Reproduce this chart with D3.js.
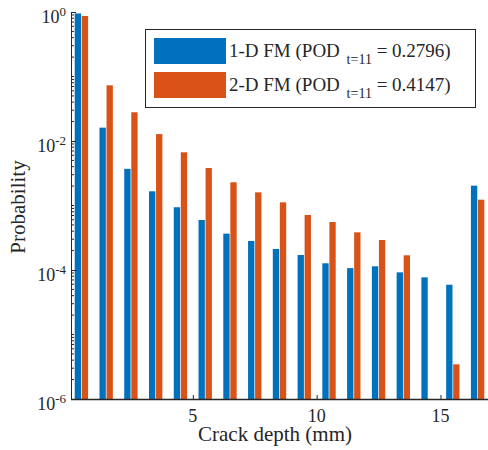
<!DOCTYPE html>
<html>
<head>
<meta charset="utf-8">
<script src="https://cdn.jsdelivr.net/npm/d3@7"></script>
<style>
  body { margin: 0; background: #fff; }
  text { font-family: "Liberation Serif", "Times New Roman", serif; fill: #262626; }
</style>
</head>
<body>
<script>
// crack depth bins (bar centers, mm)
const depth = [0.5, 1.5, 2.5, 3.5, 4.5, 5.5, 6.5, 7.5, 8.5, 9.5, 10.5, 11.5, 12.5, 13.5, 14.5, 15.5, 16.5]
// probability per bin
const fm1d = [0.95, 0.0161, 0.0037, 0.00166, 0.00094, 0.000596, 0.000366, 0.000282, 0.000212, 0.000171,
  0.000127, 0.000107, 0.000114, 9.2e-5, 7.7e-5, 5.9e-5, 0.00203]
const fm2d = [0.867, 0.073, 0.0279, 0.0128, 0.00668, 0.00381, 0.00229, 0.0016, 0.00112, 0.000713,
  0.000555, 0.000384, 0.000292, 0.000169, 0, 3.45e-6, 0.00123]
const seriesNames = ['1-D FM', '2-D FM']
const podValues = ['0.2796', '0.4147']
const xTicks = [5, 10, 15]
const yTicks = [1e0, 1e-2, 1e-4, 1e-6]

const colors = ['#0072BD', '#D95319']
const w = 488
const h = 450
const mLeft = 71, mRight = 488, mTop = 12, mBottom = 399

const svg = d3.select('body')
  .append('svg')
  .attr('width', w)
  .attr('height', h)

const x = d3.scaleLinear().domain([0.08, 16.92]).range([mLeft, mRight])
const y = d3.scaleLog().domain([1e-6, 1]).range([mBottom, mTop])

// sub-band for the two series inside a bin
const groupW = x(0.54) - x(0)
const x1 = d3.scaleBand().domain([0, 1]).range([-groupW / 2, groupW / 2]).paddingInner(0.1)

const rows = []
depth.forEach((d, i) => {
  rows.push({ c: d, s: 0, v: fm1d[i] })
  rows.push({ c: d, s: 1, v: fm2d[i] })
})

svg.selectAll('rect.bar')
  .data(rows.filter(r => r.v > 0))
  .enter()
  .append('rect')
  .attr('class', 'bar')
  .attr('x', r => x(r.c) + x1(r.s))
  .attr('width', x1.bandwidth())
  .attr('y', r => y(r.v))
  .attr('height', r => y(1e-6) - y(r.v))
  .attr('fill', r => colors[r.s])

// y axis with log minor ticks
const yMinor = []
for (let e = -6; e < 0; e++) {
  for (let m = 1; m < 10; m++) {
    const v = m * Math.pow(10, e)
    if (!yTicks.some(t => Math.abs(t - v) / v < 1e-9)) yMinor.push(v)
  }
}
const yAxis = svg.append('g').attr('transform', `translate(${mLeft},0)`)
yAxis.call(d3.axisLeft(y).tickValues(yTicks).tickSize(-5).tickFormat(''))
yAxis.selectAll('line').attr('stroke', '#262626')
yAxis.select('.domain').attr('stroke', '#262626').attr('d', `M0.5,${mTop}V${mBottom}`)
yAxis.selectAll('.minor')
  .data(yMinor)
  .enter()
  .append('line')
  .attr('class', 'minor')
  .attr('x1', 0).attr('x2', 3)
  .attr('y1', d => y(d)).attr('y2', d => y(d))
  .attr('stroke', '#262626')

const yLab = svg.append('g')
  .selectAll('text')
  .data(yTicks)
  .enter()
  .append('text')
  .attr('x', 66)
  .attr('y', d => y(d) + 11)
  .attr('text-anchor', 'end')
  .attr('font-size', 18)
yLab.append('tspan').text('10')
yLab.append('tspan')
  .attr('dy', -7)
  .attr('font-size', 13)
  .text(d => String(Math.round(Math.log10(d))))

// x axis
const xAxis = svg.append('g').attr('transform', `translate(0,${mBottom})`)
xAxis.call(d3.axisBottom(x).tickValues(xTicks).tickSize(-4).tickFormat(''))
xAxis.selectAll('line').attr('stroke', '#262626')
xAxis.select('.domain').attr('stroke', '#262626').attr('stroke-width', 1.5).attr('d', `M${mLeft},0.5H${w}`)

svg.selectAll('text.xt')
  .data(xTicks)
  .enter()
  .append('text')
  .attr('class', 'xt')
  .attr('x', d => x(d))
  .attr('y', 422)
  .attr('text-anchor', 'middle')
  .attr('font-size', 18)
  .text(d => d)

svg.append('text')
  .attr('x', 275)
  .attr('y', 441)
  .attr('text-anchor', 'middle')
  .attr('font-size', 21)
  .text('Crack depth (mm)')

svg.append('text')
  .attr('transform', 'translate(25,207) rotate(-90)')
  .attr('text-anchor', 'middle')
  .attr('font-size', 21)
  .text('Probability')

// legend
const lg = svg.append('g')
lg.append('rect')
  .attr('x', 145.5).attr('y', 29.5)
  .attr('width', 330).attr('height', 78)
  .attr('fill', '#fff')
  .attr('stroke', '#262626')

seriesNames.forEach((name, i) => {
  const yy = 38 + i * 34
  lg.append('rect')
    .attr('x', 154).attr('y', yy)
    .attr('width', 72).attr('height', 26)
    .attr('fill', colors[i])
  const t = lg.append('text')
    .attr('x', 229).attr('y', yy + 19)
    .attr('font-size', 19)
  t.append('tspan').text(name + ' (POD ')
  t.append('tspan').attr('dy', 7).attr('dx', 2).attr('font-size', 14).text('t=11')
  t.append('tspan').attr('dy', -7).text(' = ' + podValues[i] + ')')
})
</script>
</body>
</html>
